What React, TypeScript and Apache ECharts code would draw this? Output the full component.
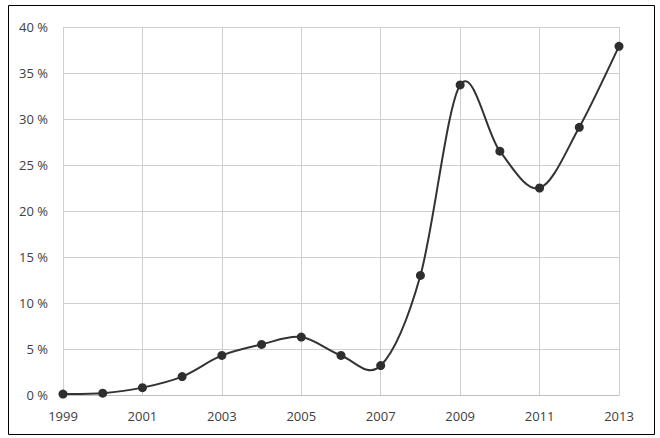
import React, { useEffect, useRef } from "react";
import * as echarts from "echarts";

const years = ["1999","2000","2001","2002","2003","2004","2005","2006","2007","2008","2009","2010","2011","2012","2013"];
const values = [0.1, 0.2, 0.8, 2.0, 4.3, 5.5, 6.3, 4.3, 3.2, 13.0, 33.7, 26.5, 22.5, 29.1, 37.9];
const yMin = 0;
const yMax = 40;
const yStep = 5;

export default function App() {
  const ref = useRef<HTMLDivElement>(null);
  useEffect(() => {
    if (!ref.current) return;
    const chart = echarts.init(ref.current, null, { renderer: "svg" });
    const points = values.map((v, i) => [i, v]);
    chart.setOption({
      animation: false,
      backgroundColor: "#ffffff",
      textStyle: { fontFamily: "Open Sans" },
      graphic: [
        {
          type: "rect",
          shape: { x: 8.5, y: 5.5, width: 646, height: 429 },
          style: { fill: "none", stroke: "#000000", lineWidth: 1 },
          silent: true,
        },
      ],
      grid: { left: 63, right: 41, top: 27, bottom: 43 },
      xAxis: {
        type: "category",
        data: years,
        boundaryGap: false,
        axisLine: { show: true, lineStyle: { color: "#bfbfbf", width: 1 } },
        axisTick: { show: false },
        axisLabel: { interval: 1, color: "#404040", fontSize: 13, margin: 14 },
        splitLine: { show: true, interval: 1, lineStyle: { color: "#cfcfcf", width: 1 } },
      },
      yAxis: {
        type: "value",
        min: yMin,
        max: yMax,
        interval: yStep,
        axisLine: { show: false },
        axisTick: { show: false },
        axisLabel: { color: "#404040", fontSize: 13, margin: 15, formatter: (v: number) => `${v} %` },
        splitLine: { show: true, lineStyle: { color: "#cfcfcf", width: 1 } },
      },
      series: [
        {
          type: "custom",
          data: points,
          encode: { x: 0, y: 1 },
          clip: false,
          z: 2,
          renderItem: (params: any, api: any) => {
            if (params.dataIndex !== 0) return null;
            const p = points.map((d) => api.coord(d));
            const n = p.length;
            let d = `M${p[0][0]},${p[0][1]}`;
            for (let i = 0; i < n - 1; i++) {
              const p0 = p[Math.max(0, i - 1)];
              const p1 = p[i];
              const p2 = p[i + 1];
              const p3 = p[Math.min(n - 1, i + 2)];
              const c1x = p1[0] + (p2[0] - p0[0]) / 6;
              const c1y = p1[1] + (p2[1] - p0[1]) / 6;
              const c2x = p2[0] - (p3[0] - p1[0]) / 6;
              const c2y = p2[1] - (p3[1] - p1[1]) / 6;
              d += ` C${c1x},${c1y} ${c2x},${c2y} ${p2[0]},${p2[1]}`;
            }
            return {
              type: "path",
              shape: { pathData: d },
              style: { fill: "none", stroke: "#333333", lineWidth: 2 },
            };
          },
        },
        {
          type: "scatter",
          data: points,
          symbol: "circle",
          symbolSize: 9,
          z: 3,
          itemStyle: { color: "#2e2e2e", opacity: 1 },
        },
      ],
    });
    return () => chart.dispose();
  }, []);
  return <div ref={ref} style={{ position: "absolute", left: 0, top: 0, width: 660, height: 438 }} />;
}
